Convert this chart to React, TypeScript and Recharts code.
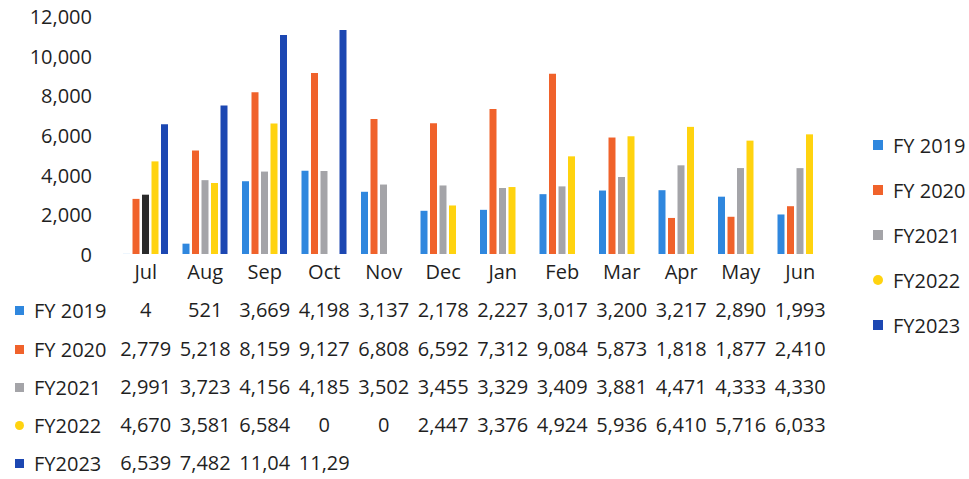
import React from 'react';
import { BarChart, Bar, XAxis, YAxis, Cell } from 'recharts';

const months = ['Jul', 'Aug', 'Sep', 'Oct', 'Nov', 'Dec', 'Jan', 'Feb', 'Mar', 'Apr', 'May', 'Jun'];
const fy2019 = [4, 521, 3669, 4198, 3137, 2178, 2227, 3017, 3200, 3217, 2890, 1993];
const fy2020 = [2779, 5218, 8159, 9127, 6808, 6592, 7312, 9084, 5873, 1818, 1877, 2410];
const fy2021 = [2991, 3723, 4156, 4185, 3502, 3455, 3329, 3409, 3881, 4471, 4333, 4330];
const fy2022 = [4670, 3581, 6584, 0, 0, 2447, 3376, 4924, 5936, 6410, 5716, 6033];
const fy2023: (number | null)[] = [6539, 7482, 11045, 11295, null, null, null, null, null, null, null, null];
const yTicks = [0, 2000, 4000, 6000, 8000, 10000, 12000];

const seriesKeys = ['fy2019', 'fy2020', 'fy2021', 'fy2022', 'fy2023'];
const seriesNames = ['FY 2019', 'FY 2020', 'FY2021', 'FY2022', 'FY2023'];
const seriesValues = [fy2019, fy2020, fy2021, fy2022, fy2023];
const colors = ['#2f87de', '#f0622b', '#a4a4a8', '#ffd30f', '#1c47b2'];

const data = months.map((m, i) => {
  const row: Record<string, any> = { month: m };
  seriesKeys.forEach((k, s) => {
    row[k] = seriesValues[s][i];
  });
  return row;
});

const FONT = '"Open Sans", sans-serif';
const TEXT = '#1f1f1f';
const PLOT_BOTTOM = 254;
const rowOffsets = [56, 95, 133, 171, 209];

const fmt = (v: number | null) =>
  v === null || v === undefined ? '' : v.toLocaleString('en-US').slice(0, 5);

const MonthTick = (props: any) => {
  const { x, y, payload } = props;
  const idx = months.indexOf(payload.value);
  return (
    <g>
      <text x={x} y={y + 18} dy="0.35em" textAnchor="middle" fontFamily={FONT} fontSize={20} fill={TEXT}>
        {payload.value}
      </text>
      {seriesValues.map((vals, s) => (
        <text
          key={s}
          x={x}
          y={y + rowOffsets[s]}
          dy="0.35em"
          textAnchor="middle"
          fontFamily={FONT}
          fontSize={20}
          fill={TEXT}
        >
          {fmt(vals[idx])}
        </text>
      ))}
    </g>
  );
};

export default function App() {
  return (
    <div style={{ position: 'absolute', left: 0, top: 0, width: 969, height: 479, background: '#fff' }}>
      <BarChart
        width={969}
        height={479}
        data={data}
        margin={{ top: 16, right: 139, bottom: 0, left: 0 }}
        barSize={7}
        barGap={2.5}
      >
        <XAxis
          dataKey="month"
          axisLine={false}
          tickLine={false}
          tickSize={0}
          tickMargin={0}
          height={479 - PLOT_BOTTOM}
          interval={0}
          tick={<MonthTick />}
        />
        <YAxis
          width={116}
          domain={[0, 12000]}
          ticks={yTicks}
          axisLine={false}
          tickLine={false}
          tickSize={0}
          tickMargin={24}
          tickFormatter={(v: number) => v.toLocaleString('en-US')}
          tick={{ fontFamily: FONT, fontSize: 20, fill: TEXT, dy: 1 }}
        />
        {seriesKeys.map((k, s) => (
          <Bar key={k} dataKey={k} name={seriesNames[s]} fill={colors[s]} isAnimationActive={false}>
            {s === 2 &&
              data.map((_, i) => <Cell key={i} fill={i === 0 ? '#2b2b2b' : colors[s]} />)}
          </Bar>
        ))}
      </BarChart>
      {seriesNames.map((n, s) => (
        <div
          key={'row' + s}
          style={{
            position: 'absolute',
            left: 15,
            top: PLOT_BOTTOM + rowOffsets[s] - 15,
            height: 30,
            display: 'flex',
            alignItems: 'center',
            fontFamily: FONT,
            fontSize: 20,
            color: TEXT,
            whiteSpace: 'nowrap',
          }}
        >
          <span
            style={{
              display: 'inline-block',
              width: 9,
              height: 9,
              background: colors[s],
              marginRight: 10,
              borderRadius: s === 3 ? 5 : 0,
            }}
          />
          {n}
        </div>
      ))}
      {seriesNames.map((n, s) => (
        <div
          key={'leg' + s}
          style={{
            position: 'absolute',
            left: 873,
            top: 145 + s * 45 - 15,
            height: 30,
            display: 'flex',
            alignItems: 'center',
            fontFamily: FONT,
            fontSize: 20,
            color: TEXT,
            whiteSpace: 'nowrap',
          }}
        >
          <span
            style={{
              display: 'inline-block',
              width: 10,
              height: 10,
              background: colors[s],
              marginRight: 10,
              borderRadius: s === 3 ? 5 : 0,
            }}
          />
          {n}
        </div>
      ))}
    </div>
  );
}
